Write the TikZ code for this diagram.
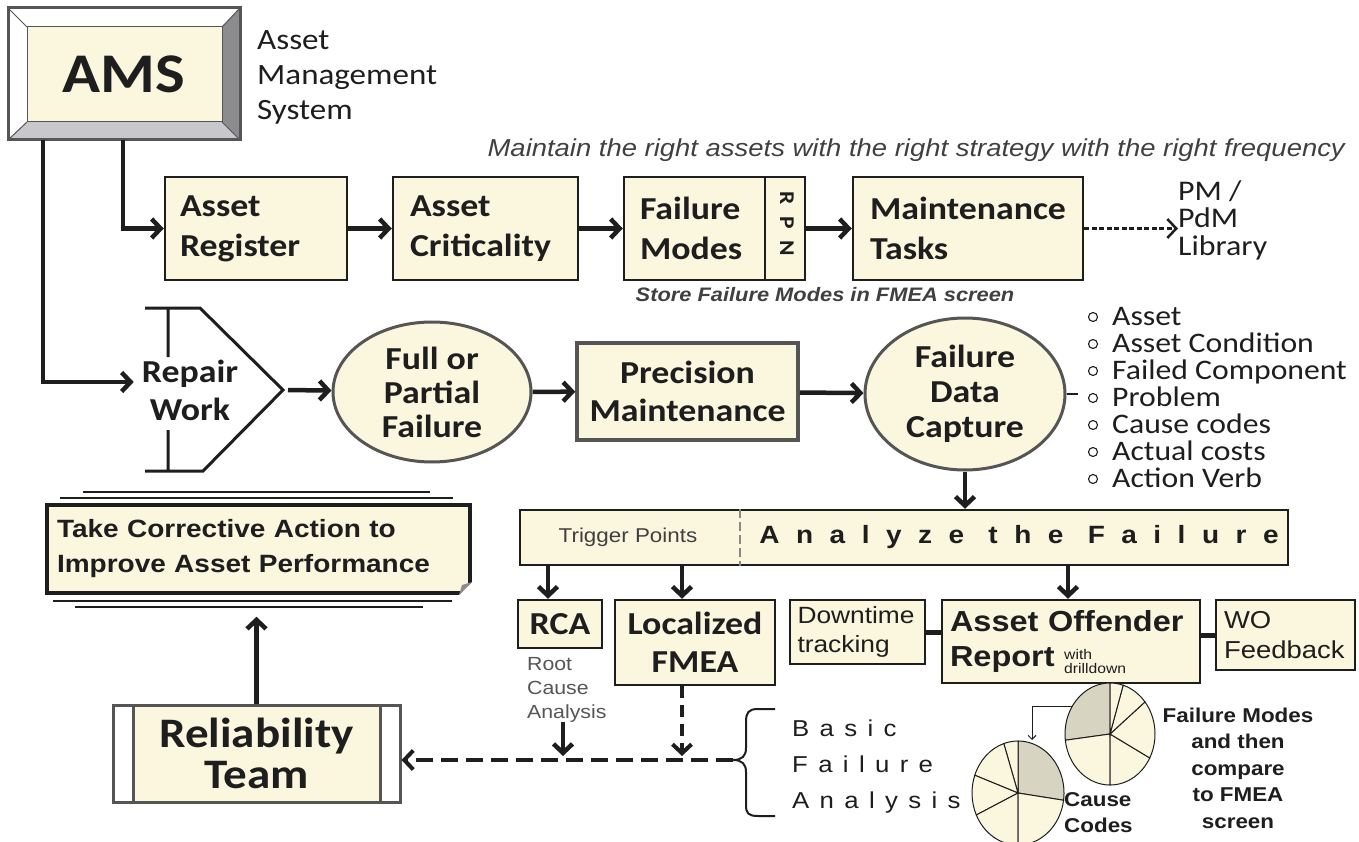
\documentclass[tikz,border=0pt]{standalone}
\usepackage{fontspec}
\setmainfont{Carlito}[FakeStretch=1.12]
\newfontfamily\arial{Liberation Sans}[FakeStretch=1.12]
\usetikzlibrary{arrows.meta,shapes.geometric}

\definecolor{cream}{RGB}{251,246,222}
\definecolor{ink}{RGB}{30,30,30}
\definecolor{rim}{RGB}{85,85,85}
\definecolor{bevel}{RGB}{140,140,142}
\definecolor{bevellight}{RGB}{200,200,204}
\definecolor{slice}{RGB}{216,212,194}

\newcommand\fs[2]{\fontsize{#1}{#2}\selectfont}
\newcommand\spaced[2]{{\addfontfeature{LetterSpace=#1}#2}}

\begin{document}
\begin{tikzpicture}[x=1pt,y=-1pt,
  >={Straight Barb[length=9pt,width=19pt]},
  box/.style={draw=ink, fill=cream, line width=2.5pt, inner sep=0pt},
  grey box/.style={box, draw=rim, line width=3.5pt},
  blob/.style={ellipse, draw=rim, fill=cream, line width=3pt, inner sep=0pt, align=center},
  head/.style={font=\bfseries\fs{32}{40}, text=ink},
  flow/.style={->, line width=4.5pt, ink},
  link/.style={line width=5pt, ink}]
\useasboundingbox[fill=white] (0,0) rectangle (1359,842);

% AMS frame with bevel
\fill[white] (8,8) -- (240,8) -- (222,27) -- (27,27) -- (27,122) -- (8,140) -- cycle;
\fill[bevel] (240,8) -- (240,140) -- (222,122) -- (222,27) -- cycle;
\fill[bevellight] (8,140) -- (240,140) -- (222,122) -- (27,122) -- cycle;
\draw[rim, line width=1pt] (8,8) -- (27,27) (240,8) -- (222,27) (8,140) -- (27,122) (240,140) -- (222,122);
\draw[rim, line width=3pt] (8,8) rectangle (240,140);
\draw[rim, line width=1pt, fill=cream] (27,27) rectangle (222,122);
\node[minimum width=232, minimum height=132, inner sep=0, font=\bfseries\fs{56}{60}, text=ink] (ams) at (124,74) {AMS};
\node[anchor=north west, align=left, inner sep=0, font=\fs{29.5}{35}, text=ink] (amsnote) at (257,30) {Asset\\Management\\System};

% strategy row
\node[anchor=east, inner sep=0, font=\arial\itshape\fs{24.5}{24.5}, text=ink!85] (motto) at (1345,150) {Maintain the right assets with the right strategy with the right frequency};
\node[box, minimum width=182, minimum height=103, text width=152, align=left, head] (register) at (256,228.5) {Asset\\Register};
\node[box, minimum width=185, minimum height=103, text width=151, align=left, head] (critical) at (485.5,228.5) {Asset\\Criticality};
\node[box, minimum width=181, minimum height=103, text width=149, align=left, head] (modes) at (714.5,228.5) {Failure\\Modes};
\draw[ink, line width=1.2pt] ([xshift=50.5pt]modes.north) -- ([xshift=50.5pt]modes.south);
\node[rotate=-90, inner sep=0, font=\bfseries\fs{21}{21}, text=ink] (rpn) at (787,224) {\spaced{55}{RPN}};
\node[box, minimum width=230, minimum height=103, text width=196, align=left, head] (tasks) at (968,228.5) {Maintenance\\Tasks};
\node[anchor=west, align=left, inner sep=0, font=\fs{28.5}{27.5}, text=ink] (library) at (1178,220) {PM /\\PdM\\Library};
\node[inner sep=0, font=\arial\bfseries\itshape\fs{19.5}{20}, text=ink!85] (storenote) at (825,295) {Store Failure Modes in FMEA screen};

\draw[flow] (ams.south -| 123,0) |- (register.west);
\draw[flow] (register) -- (critical);
\draw[flow] (critical) -- (modes);
\draw[flow] (modes) -- (tasks);
\draw[->, ink, line width=2.5pt, dash pattern=on 5pt off 2.5pt] (tasks.east) -- (tasks.east -| library.west);

% repair row
\draw[ink, line width=3pt] (145,308) -- (200,308) -- (283,390) -- (203,471) -- (145,471)
  (168,308) -- (168,357) (168,430) -- (168,471);
\coordinate (apex) at (283,390);
\node[inner sep=0, align=center, font=\bfseries\fs{32}{38}, text=ink] (repair) at (190,390) {Repair\\Work};
\node[blob, minimum width=198, minimum height=140, font=\bfseries\fs{32}{34}, text=ink] (full) at (432,392) {Full or\\Partial\\Failure};
\node[grey box, minimum width=221, minimum height=97, align=center, font=\bfseries\fs{32}{38}, text=ink] (precision) at (687.5,391.5) {Precision\\Maintenance};
\node[blob, minimum width=200, minimum height=152, font=\bfseries\fs{32}{35}, text=ink] (capture) at (965,394) {Failure\\Data\\Capture};

\draw[flow] (ams.south -| 43,0) |- ([xshift=-8pt,yshift=8pt]repair.west);
\draw[flow] ([xshift=5pt]apex) -- (full);
\draw[flow] (full) -- (precision);
\draw[flow] (precision) -- (capture);
\draw[ink, line width=2pt] (capture.east) -- ++(11,0);
\foreach \t [count=\i] in {Asset, Asset Condition, Failed Component, Problem, Cause codes, Actual costs, Action Verb} {
  \draw[ink, line width=1.1pt] (1093,290+27*\i) circle[radius=4.5];
  \node[anchor=base west, inner sep=0, font=\fs{28.3}{27}, text=ink] (item\i) at (1112,298+27*\i) {\t};
}

% analysis bar
\node[box, minimum width=768, minimum height=55] (analyze) at (904,537.5) {};
\draw[rim!70, line width=1.5pt, dash pattern=on 9pt off 4pt] ([xshift=-164pt]analyze.north) -- ([xshift=-164pt]analyze.south);
\node[inner sep=0, font=\arial\fs{20}{20}, text=ink!85] (trigger) at (628,537) {Trigger Points};
\node[inner sep=0, font=\arial\bfseries\fs{25}{25}, text=ink] (title) at (1019,537) {\spaced{66}{Analyze the Failure}};
\draw[flow] (capture.south) -- (capture.south |- analyze.north);

\node[box, minimum width=84, minimum height=48, head] (rca) at (560,624) {RCA};
\node[box, minimum width=160, minimum height=85, align=center, font=\bfseries\fs{32}{38}, text=ink] (localized) at (695,642.5) {Localized\\FMEA};
\node[box, minimum width=135, minimum height=64, text width=120, align=left, font=\arial\fs{23.5}{29}, text=ink] (downtime) at (857.5,632) {Downtime\\tracking};
\node[box, minimum width=258, minimum height=83, text width=242, align=left, font=\arial\bfseries\fs{29}{35}, text=ink] (offender) at (1071,641.5) {Asset Offender\\Report};
\node[anchor=west, align=left, inner sep=0, font=\arial\fs{14}{14}, text=ink] (drill) at (1064,661) {with\\drilldown};
\node[box, minimum width=139, minimum height=70, text width=123, align=left, font=\arial\fs{24.5}{30}, text=ink] (wo) at (1285.5,635) {WO\\Feedback};
\node[anchor=north west, align=left, inner sep=0, font=\arial\fs{19}{24}, text=ink!75] (rootnote) at (527,657) {Root\\Cause\\Analysis};

\draw[flow] (analyze.south -| 548,0) -- (rca.north -| 548,0);
\draw[flow] (analyze.south -| 682,0) -- (localized.north -| 682,0);
\draw[flow] (analyze.south -| 1068,0) -- (offender.north -| 1068,0);
\draw[link] (downtime.east) -- (downtime.east -| offender.west);
\draw[link] (offender.east |- wo.west) -- (wo.west);

% basic failure analysis
\coordinate (tip) at (733,760);
\draw[ink, line width=2pt] (775,709) -- (758,709) .. controls (748,709) and (746,713) .. (746,722) -- (746,748)
  .. controls (746,756) and (742,760) .. (tip) .. controls (742,760) and (746,764) .. (746,772) -- (746,805)
  .. controls (746,813) and (748,816) .. (758,816) -- (775,816);
\node[anchor=west, align=left, inner sep=0, font=\arial\fs{23}{36}, text=ink] (basic) at (792,767) {\spaced{45}{Basic}\\\spaced{45}{Failure}\\\spaced{45}{Analysis}};

\node[draw=rim, fill=white, line width=3pt, minimum width=287, minimum height=97, inner sep=0, align=center,
  font=\bfseries\fs{42}{41}, text=ink,
  path picture={\fill[cream] ([xshift=20pt]path picture bounding box.north west) rectangle ([xshift=-20pt]path picture bounding box.south east);
    \draw[rim, line width=3pt] ([xshift=20pt]path picture bounding box.north west) -- ([xshift=20pt]path picture bounding box.south west)
      ([xshift=-20pt]path picture bounding box.north east) -- ([xshift=-20pt]path picture bounding box.south east);}] (team) at (256.5,753.5) {Reliability\\Team};

\draw[->, ink, line width=4pt, dash pattern=on 17pt off 8pt] (tip) -- (tip -| team.east);
\draw[->, ink, line width=4pt, dash pattern=on 12pt off 7pt, shorten >=4pt] (localized.south -| 682,0) -- (tip -| 682,0);
\draw[flow, shorten >=4pt] (rootnote.south -| 563,0) -- (tip -| 563,0);

% corrective action
\node[box, line width=3.5pt, minimum width=423, minimum height=88, text width=403, align=left, font=\arial\bfseries\fs{25}{35}, text=ink] (action) at (258.5,549) {Take Corrective Action to\\Improve Asset Performance};
\foreach \a/\b/\h in {83/430/492, 60/453/498, 53/452/601, 75/423/607}
  \draw[ink, line width=1.3pt] (\a,\h) -- (\b,\h);
\fill[white] (459,595) -- (472,595) -- (472,582) -- cycle;
\fill[bevel] (459,595) -- (472,582) -- (462,585) -- cycle;
\draw[flow, shorten >=22pt] (team.north) -- (team.north |- action.south);

% pies
\begin{scope}[shift={(1110,734)}, yscale=-1]
  \foreach \a/\b/\c in {90/187/slice, 187/270/cream, 270/332/cream, 332/399/cream, 39/73/cream, 73/90/cream}
    \filldraw[fill=\c, draw=ink, line width=1pt] (0,0) -- (\a:45 and 51) arc[start angle=\a, end angle=\b, x radius=45, y radius=51] -- cycle;
\end{scope}
\begin{scope}[shift={(1018,793)}, yscale=-1]
  \foreach \a/\b/\c in {352/450/slice, 90/108/cream, 108/160/cream, 160/205/cream, 205/270/cream, 270/352/cream}
    \filldraw[fill=\c, draw=ink, line width=1pt] (0,0) -- (\a:46 and 52) arc[start angle=\a, end angle=\b, x radius=46, y radius=52] -- cycle;
\end{scope}
\draw[ink, line width=1pt, -{Straight Barb[length=4pt,width=8pt]}] (1072,706) -- (1032,706) -- (1032,740);
\node[align=center, inner sep=0, font=\arial\bfseries\fs{20}{26.5}, text=ink] (modesnote) at (1238,768) {Failure Modes\\and then\\compare\\to FMEA\\screen};
\node[anchor=west, align=left, inner sep=0, font=\arial\bfseries\fs{20}{26}, text=ink] (codesnote) at (1064,813) {Cause\\Codes};
\end{tikzpicture}
\end{document}
